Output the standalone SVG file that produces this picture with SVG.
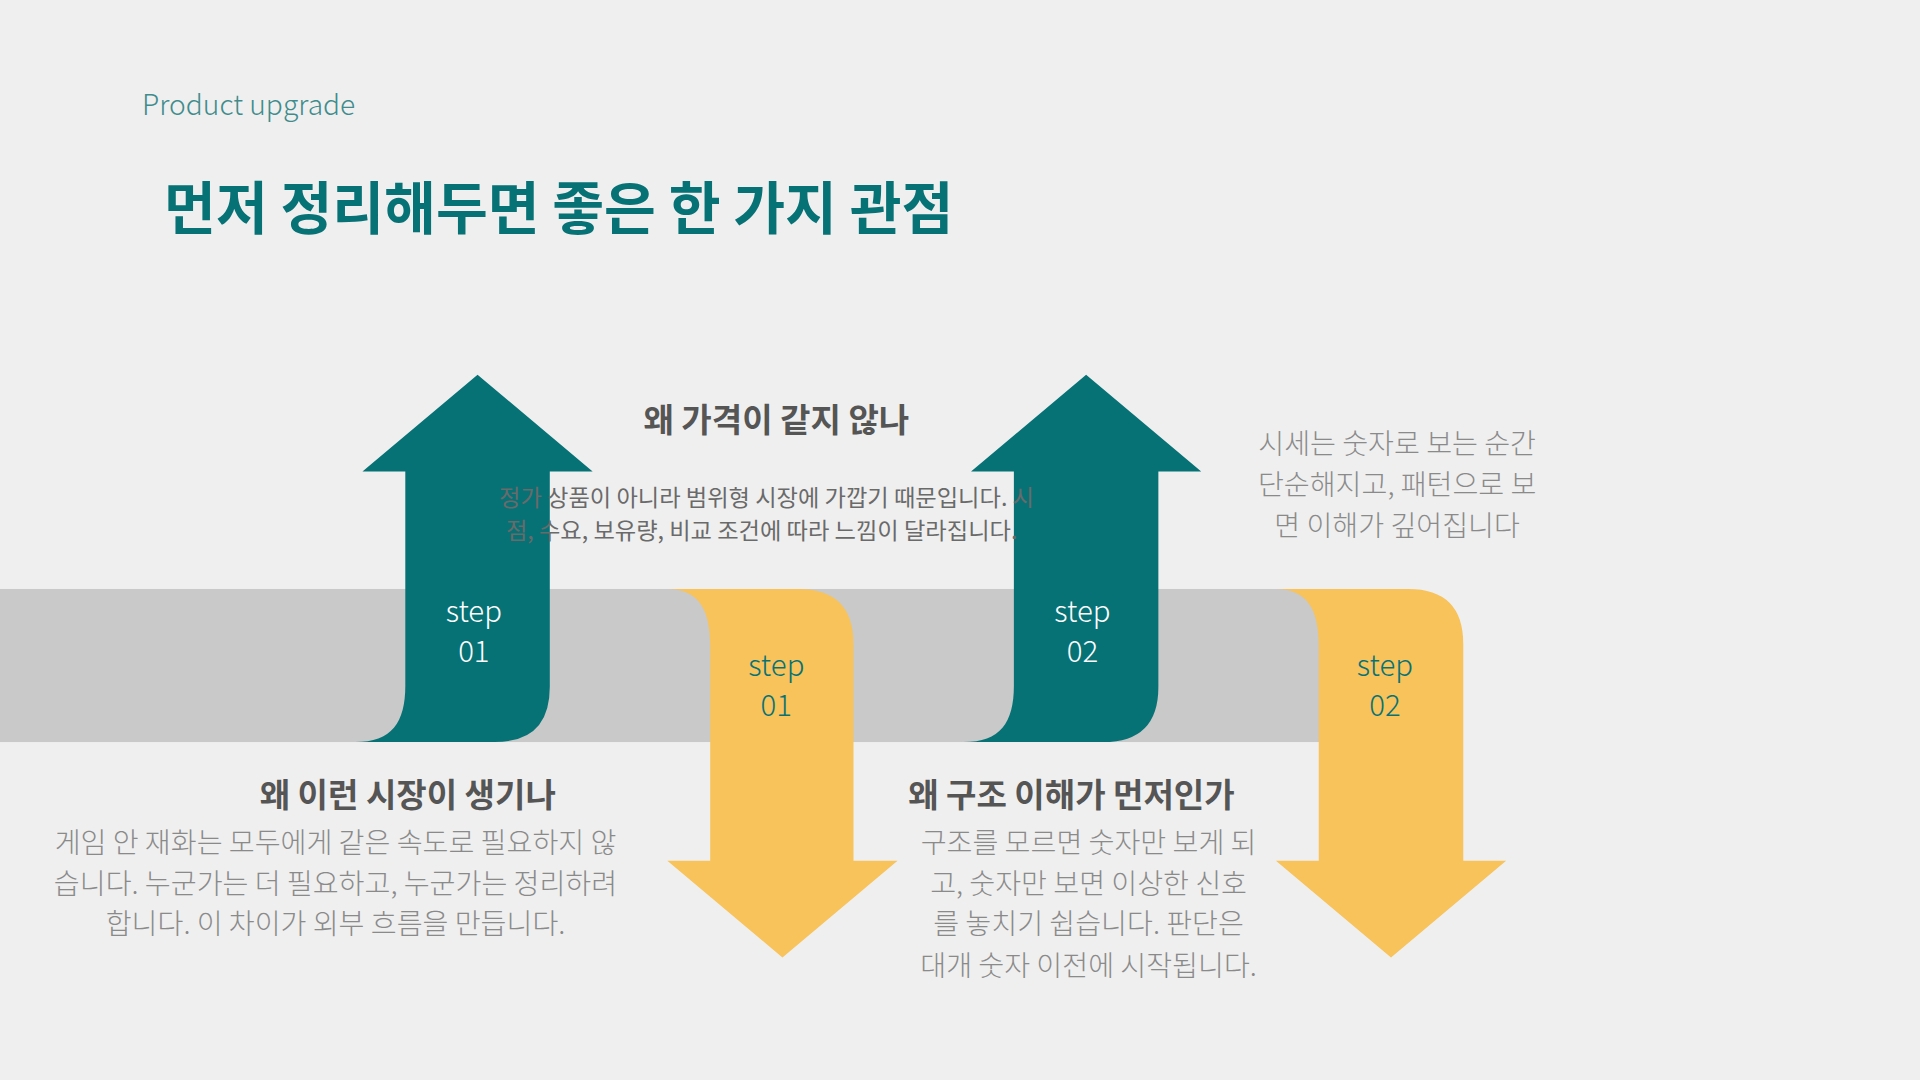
<svg xmlns="http://www.w3.org/2000/svg" width="1920" height="1080" viewBox="0 0 1920 1080">
<style>
text{font-family:"Noto Sans CJK KR","Noto Sans",sans-serif}
.teal{fill:#077276}.yel{fill:#f7c35a}
.h{font-size:27px;font-weight:700;fill:#555;text-anchor:middle}
.p{font-size:23px;font-weight:300;fill:#8a8a8a;text-anchor:middle}
.pm{font-size:19px;fill:#6a6a6a;text-anchor:middle}
.sw{font-size:24px;font-weight:300;fill:#fff;text-anchor:middle}
.sy{font-size:24px;font-weight:300;fill:#077276;text-anchor:middle}
</style>
<rect width="1920" height="1080" fill="#efefef"/>
<g transform="scale(1.22449)">
<text x="116" y="94" font-size="23" font-weight="300" fill="#3f8c8c">Product upgrade</text>
<text x="134" y="187" font-size="46" font-weight="700" fill="#077276">먼저 정리해두면 좋은 한 가지 관점</text>
<g id="band"><rect x="0" y="481" width="1100" height="125" fill="#c9c9c9"/></g>
<g id="arrow-up-1"><path class="teal" d="M331,385 L296,385 L390,306 L484,385 L449,385 L449,561 Q449,606 404,606 L290,606 C320,606 331,590 331,560 Z"/>
<text class="sw" x="387" y="508">step</text><text class="sw" x="387" y="541">01</text></g>
<g id="arrow-down-1"><path class="yel" d="M545,481 L652,481 Q697,481 697,526 L697,703 L733,703 L639,782 L545,703 L580,703 L580,527 C580,497 570,481 545,481 Z"/>
<text class="sy" x="634" y="552">step</text><text class="sy" x="634" y="585">01</text></g>
<g id="arrow-up-2"><path class="teal" d="M828,385 L793,385 L887,306 L981,385 L946,385 L946,561 Q946,606 901,606 L787,606 C817,606 828,590 828,560 Z"/>
<text class="sw" x="884" y="508">step</text><text class="sw" x="884" y="541">02</text></g>
<g id="arrow-down-2"><path class="yel" d="M1042,481 L1150,481 Q1195,481 1195,526 L1195,703 L1230,703 L1136,782 L1042,703 L1077,703 L1077,527 C1077,497 1067,481 1042,481 Z"/>
<text class="sy" x="1131" y="552">step</text><text class="sy" x="1131" y="585">02</text></g>
<g id="t1"><text class="h" x="634" y="353">왜 가격이 같지 않나</text>
<text class="pm" x="626" y="413">정가 상품이 아니라 범위형 시장에 가깝기 때문입니다. 시</text>
<text class="pm" x="622" y="440">점, 수요, 보유량, 비교 조건에 따라 느낌이 달라집니다.</text></g>
<g id="t2"><text class="h" x="333" y="659">왜 이런 시장이 생기나</text>
<text class="p" x="274" y="697">게임 안 재화는 모두에게 같은 속도로 필요하지 않</text>
<text class="p" x="274" y="730">습니다. 누군가는 더 필요하고, 누군가는 정리하려</text>
<text class="p" x="274" y="763">합니다. 이 차이가 외부 흐름을 만듭니다.</text></g>
<g id="t3"><text class="h" x="875" y="659">왜 구조 이해가 먼저인가</text>
<text class="p" x="889" y="697">구조를 모르면 숫자만 보게 되</text>
<text class="p" x="889" y="730">고, 숫자만 보면 이상한 신호</text>
<text class="p" x="889" y="763">를 놓치기 쉽습니다. 판단은</text>
<text class="p" x="889" y="797">대개 숫자 이전에 시작됩니다.</text></g>
<g id="t4"><text class="p" x="1141" y="371">시세는 숫자로 보는 순간</text>
<text class="p" x="1141" y="404">단순해지고, 패턴으로 보</text>
<text class="p" x="1141" y="438">면 이해가 깊어집니다</text></g>
</g>
</svg>
